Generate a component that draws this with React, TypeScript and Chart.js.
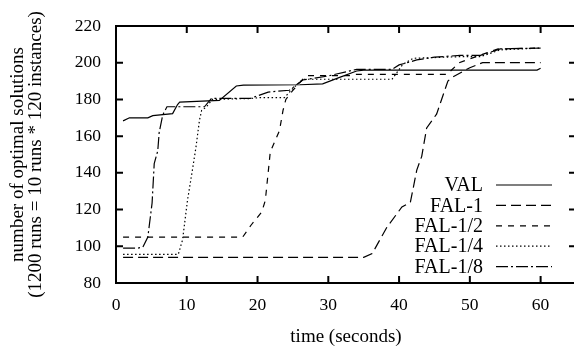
import React, { useEffect, useRef } from "react";
import { Chart, registerables } from "chart.js";

Chart.register(...registerables);

const seriesLabels = ["VAL", "FAL-1", "FAL-1/2", "FAL-1/4", "FAL-1/8"];

const valTime = [1, 1.9, 4.5, 5.2, 8, 8.7, 9, 14.6, 17, 18, 26, 29.2, 31.6, 34, 35, 59.5, 60];
const valCount = [168.3, 170, 170, 171.2, 172.3, 177.2, 178.5, 179.5, 187.3, 187.8, 188, 188.5, 192, 195.5, 196, 196, 197];

const fal1Time = [1, 35, 36.2, 38.3, 40.4, 41.6, 42.5, 43.2, 43.9, 45.3, 46.9, 47.4, 50, 51.8, 60];
const fal1Count = [94, 94, 96, 110.5, 121.4, 124, 141.5, 149, 164.5, 172, 190, 191.8, 197.3, 200, 200];

const fal2Time = [1, 17.9, 19.1, 20.6, 21.1, 21.8, 23.1, 23.6, 24, 25, 26.4, 27, 33, 34, 46.8, 48.5, 51, 54, 60];
const fal2Count = [105, 105, 111.6, 118.7, 125, 151.4, 163, 174, 180, 185, 191, 193, 193, 193.7, 193.7, 200, 203.5, 207.5, 208];

const fal4Time = [1, 8.8, 9.4, 10.1, 10.8, 11.3, 11.8, 12.1, 12.8, 13.6, 19, 20.3, 23.8, 25, 26.4, 34, 39, 40.5, 42, 48.6, 51.5, 54.3, 60];
const fal4Count = [95.6, 95.6, 103.4, 125, 141.6, 154, 168.8, 174, 176, 180, 180.5, 181, 181, 186, 191, 191, 191, 199, 202.4, 203.3, 203.3, 207, 208];

const fal8Time = [1, 3.1, 3.8, 4.5, 5.1, 5.4, 5.9, 6.1, 6.6, 7.2, 12.5, 13.5, 19, 21.5, 24.5, 26.4, 30, 34, 39, 40, 42.5, 45, 48.6, 51.5, 54.3, 60];
const fal8Count = [99, 99, 99.6, 105, 123.6, 145, 152, 162, 171.5, 176, 176, 180.6, 180.6, 184, 185, 190.6, 192.8, 196.4, 196.4, 198.8, 201.5, 203, 204, 204, 207.5, 208];

const xTicks = [0, 10, 20, 30, 40, 50, 60];
const yTicks = [80, 100, 120, 140, 160, 180, 200, 220];

const FONT = "'Liberation Serif', 'Times New Roman', serif";

function pts(t: number[], v: number[]) {
  return t.map((x, i) => ({ x, y: v[i] }));
}

const dashes: number[][] = [[], [10, 5], [6, 6], [1.5, 2.5], [12, 3, 2, 3]];

const frameAndKey = {
  id: "frameAndKey",
  afterDatasetsDraw(chart: any) {
    const { ctx, chartArea } = chart;
    const { left, right, top, bottom } = chartArea;
    const xs = chart.scales.x;
    const ys = chart.scales.y;
    ctx.save();
    ctx.strokeStyle = "#000";
    ctx.lineWidth = 2;
    ctx.setLineDash([]);
    ctx.beginPath();
    ctx.rect(left, top, right - left, bottom - top);
    ctx.stroke();
    const tl = 7;
    ctx.beginPath();
    xTicks.forEach((v) => {
      const px = xs.getPixelForValue(v);
      ctx.moveTo(px, bottom);
      ctx.lineTo(px, bottom - tl);
      ctx.moveTo(px, top);
      ctx.lineTo(px, top + tl);
    });
    yTicks.forEach((v) => {
      const py = ys.getPixelForValue(v);
      ctx.moveTo(left, py);
      ctx.lineTo(left + tl, py);
      ctx.moveTo(right, py);
      ctx.lineTo(right - tl, py);
    });
    ctx.stroke();

    // key
    ctx.font = `20px ${FONT}`;
    ctx.fillStyle = "#000";
    ctx.textAlign = "right";
    ctx.textBaseline = "middle";
    chart.data.datasets.forEach((ds: any, i: number) => {
      const y = 185 + i * 20.4;
      ctx.fillText(ds.label, 483, y + 1);
      ctx.setLineDash(ds.borderDash || []);
      ctx.lineWidth = ds.borderWidth;
      ctx.beginPath();
      ctx.moveTo(496, y);
      ctx.lineTo(552, y);
      ctx.stroke();
    });
    ctx.restore();
  },
};

export default function App() {
  const ref = useRef<HTMLCanvasElement>(null);
  useEffect(() => {
    if (!ref.current) return;
    const times = [valTime, fal1Time, fal2Time, fal4Time, fal8Time];
    const counts = [valCount, fal1Count, fal2Count, fal4Count, fal8Count];
    const chart = new Chart(ref.current, {
      type: "line",
      data: {
        datasets: seriesLabels.map((label, i) => ({
          label,
          data: pts(times[i], counts[i]),
          borderColor: "#000",
          borderWidth: 1.2,
          borderDash: dashes[i],
          pointRadius: 0,
          tension: 0,
          fill: false,
        })),
      },
      options: {
        animation: false,
        responsive: false,
        devicePixelRatio: 1,
        layout: { padding: { top: 26, right: 4, left: 0, bottom: 0 } },
        plugins: { legend: { display: false }, tooltip: { enabled: false } },
        scales: {
          x: {
            type: "linear",
            min: 0,
            max: 65,
            afterBuildTicks: (s: any) => {
              s.ticks = xTicks.map((v) => ({ value: v }));
            },
            afterFit: (s: any) => {
              s.height = 67;
            },
            grid: { display: false, drawTicks: false },
            border: { display: false },
            ticks: { color: "#000", font: { family: FONT, size: 17.5 }, padding: 12, maxRotation: 0 },
            title: {
              display: true,
              text: "time (seconds)",
              color: "#000",
              font: { family: FONT, size: 19, lineHeight: 1 },
              padding: { top: 0, bottom: 3.5 },
            },
          },
          y: {
            type: "linear",
            min: 80,
            max: 220,
            afterBuildTicks: (s: any) => {
              s.ticks = yTicks.map((v) => ({ value: v }));
            },
            afterFit: (s: any) => {
              s.width = 116;
            },
            grid: { display: false, drawTicks: false },
            border: { display: false },
            ticks: { color: "#000", font: { family: FONT, size: 17.5 }, padding: 15 },
            title: {
              display: true,
              text: ["number of optimal solutions", "(1200 runs = 10 runs * 120 instances)"],
              color: "#000",
              font: { family: FONT, size: 19, lineHeight: 0.95 },
              padding: { top: 9, bottom: 0 },
            },
          },
        },
      },
      plugins: [frameAndKey],
    } as any);
    return () => chart.destroy();
  }, []);
  return (
    <div style={{ position: "fixed", left: 0, top: 0, width: 574, height: 350, overflow: "hidden", background: "#fff" }}>
      <canvas ref={ref} width={580} height={350} style={{ display: "block" }} />
    </div>
  );
}
